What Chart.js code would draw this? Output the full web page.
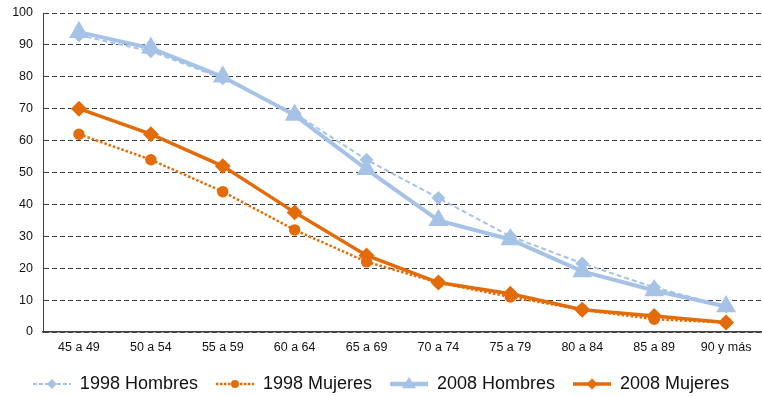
<!DOCTYPE html>
<html>
<head>
<meta charset="utf-8">
<script src="https://cdn.jsdelivr.net/npm/chart.js@4.4.1/dist/chart.umd.min.js"></script>
<style>
  html, body { margin: 0; padding: 0; background: #fff; }
  #wrap { width: 762px; height: 396px; position: relative; }
</style>
</head>
<body>
<div id="wrap"><canvas id="ageChart"></canvas></div>
<script>
const categories = ['45 a 49', '50 a 54', '55 a 59', '60 a 64', '65 a 69', '70 a 74', '75 a 79', '80 a 84', '85 a 89', '90 y más'];
const hombres1998 = [93, 88, 79.5, 68.5, 54, 42, 30, 21.5, 14, 8];
const mujeres1998 = [62, 54, 44, 32, 22, 15.5, 11, 7, 4, 3];
const hombres2008 = [94, 89, 80, 68, 51, 35, 29, 19, 13, 8];
const mujeres2008 = [70, 62, 52, 37.5, 24, 15.5, 12, 7, 5, 3];
const yTicks = [0, 10, 20, 30, 40, 50, 60, 70, 80, 90, 100];

const blue = '#a6c3e7';
const orange = '#e36c0a';
const fontFamily = "'Liberation Sans', Arial, sans-serif";

// small canvas used as legend symbol: line + marker
function legendIcon(color, lineWidth, dash, marker, r) {
    const c = document.createElement('canvas');
    c.width = 38; c.height = 16;
    const ctx = c.getContext('2d');
    ctx.strokeStyle = color;
    ctx.fillStyle = color;
    ctx.lineWidth = lineWidth;
    ctx.setLineDash(dash);
    ctx.beginPath();
    ctx.moveTo(0, 8);
    ctx.lineTo(38, 8);
    ctx.stroke();
    ctx.setLineDash([]);
    ctx.beginPath();
    if (marker === 'diamond') {
        ctx.moveTo(19, 8 - r); ctx.lineTo(19 + r, 8); ctx.lineTo(19, 8 + r); ctx.lineTo(19 - r, 8);
    } else if (marker === 'circle') {
        ctx.arc(19, 8, r, 0, Math.PI * 2);
    } else {
        ctx.moveTo(19, 8 - r); ctx.lineTo(19 + r, 8 + r * 0.6); ctx.lineTo(19 - r, 8 + r * 0.6);
    }
    ctx.closePath();
    ctx.fill();
    return c;
}

const icons = [
    legendIcon(blue, 2, [4, 2], 'diamond', 5),
    legendIcon(orange, 2.5, [2.5, 1.5], 'circle', 4),
    legendIcon(blue, 4.5, [], 'triangle', 7),
    legendIcon(orange, 3.5, [], 'diamond', 5.5)
];

// pull the legend a bit closer to the bottom edge
const legendFit = {
    id: 'legendFit',
    beforeInit(chart) {
        const fit = chart.legend.fit;
        chart.legend.fit = function () {
            fit.bind(chart.legend)();
            this.height -= 7;
        };
    }
};

const ctx = document.getElementById('ageChart').getContext('2d');

new Chart(ctx, {
    type: 'line',
    data: {
        labels: categories,
        datasets: [{
            label: '1998 Hombres',
            data: hombres1998,
            borderColor: blue,
            backgroundColor: blue,
            borderWidth: 2,
            borderDash: [5, 3],
            pointStyle: 'rectRot',
            pointRadius: 5.5
        }, {
            label: '1998 Mujeres',
            data: mujeres1998,
            borderColor: orange,
            backgroundColor: orange,
            borderWidth: 2.5,
            borderDash: [2.5, 2],
            pointStyle: 'circle',
            pointRadius: 4.5
        }, {
            label: '2008 Hombres',
            data: hombres2008,
            borderColor: blue,
            backgroundColor: blue,
            borderWidth: 4,
            pointStyle: 'triangle',
            pointRadius: 7.5
        }, {
            label: '2008 Mujeres',
            data: mujeres2008,
            borderColor: orange,
            backgroundColor: orange,
            borderWidth: 3.5,
            pointStyle: 'rectRot',
            pointRadius: 5.5
        }]
    },
    options: {
        responsive: true,
        maintainAspectRatio: false,
        animation: false,
        layout: { autoPadding: false, padding: { top: 13, right: 0, left: 0, bottom: 0 } },
        plugins: {
            tooltip: { enabled: false },
            legend: {
                position: 'bottom',
                labels: {
                    usePointStyle: true,
                    pointStyleWidth: 38,
                    padding: 18,
                    color: '#111',
                    font: { family: fontFamily, size: 18 },
                    generateLabels: function (chart) {
                        const items = Chart.defaults.plugins.legend.labels.generateLabels(chart);
                        items.forEach(item => { item.pointStyle = icons[item.datasetIndex]; });
                        return items;
                    }
                }
            }
        },
        scales: {
            x: {
                offset: true,
                afterFit: function (scale) {
                    scale.paddingRight = 0;
                    scale.paddingLeft = 0;
                    scale.height += 2;
                },
                grid: { display: false },
                border: { display: true, color: '#404040', width: 1.5 },
                ticks: {
                    color: '#111',
                    padding: 0,
                    maxRotation: 0,
                    autoSkip: false,
                    font: { family: fontFamily, size: 12.5 }
                }
            },
            y: {
                min: 0,
                max: 100,
                afterFit: function (scale) {
                    scale.width = 43;
                    scale.paddingTop = 0;
                    scale.paddingBottom = 0;
                },
                afterBuildTicks: function (scale) {
                    scale.ticks = yTicks.map(v => ({ value: v }));
                },
                grid: { color: '#404040', lineWidth: 1, drawTicks: false },
                border: { display: true, color: '#404040', width: 1, dash: [5, 3] },
                ticks: {
                    color: '#111',
                    padding: 10,
                    font: { family: fontFamily, size: 12.5 }
                }
            }
        }
    },
    plugins: [legendFit]
});
</script>
</body>
</html>
